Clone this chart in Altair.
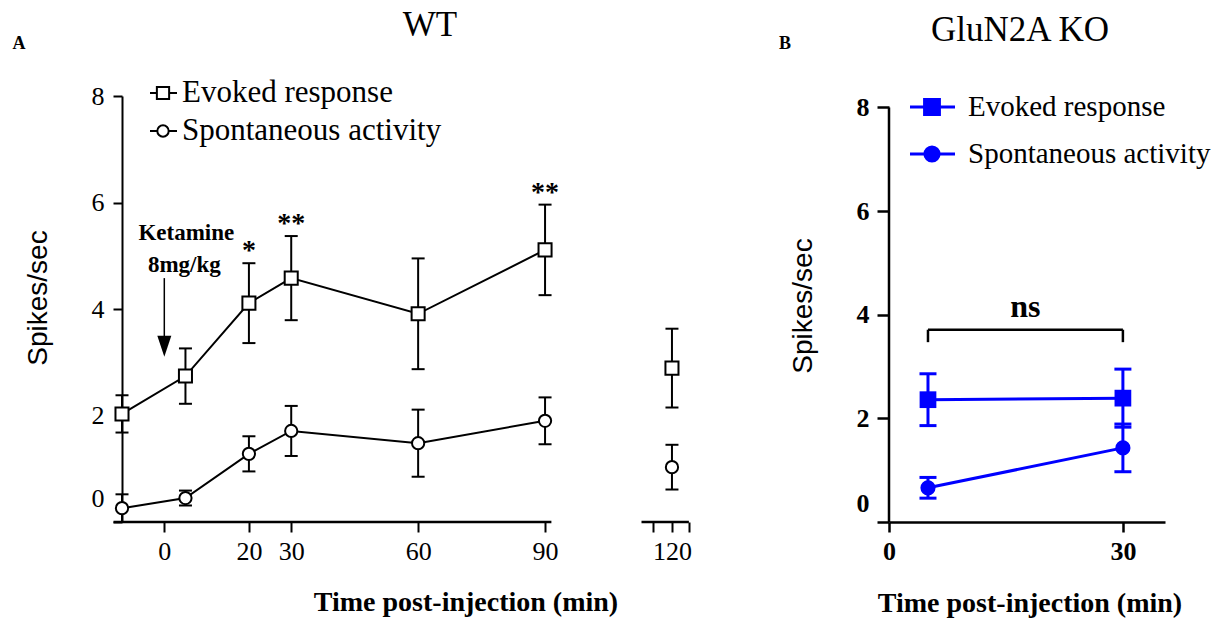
import altair as alt
import pandas as pd

SERIF = "Liberation Serif"
SANS = "Liberation Sans"
SERIES = ["Evoked response", "Spontaneous activity"]

# ---------------- Panel A : WT ----------------
a_time = [-10, 5, 20, 30, 60, 90, 120]
a_evoked = [2.03, 2.74, 4.11, 4.58, 3.91, 5.11, 2.89]
a_evoked_sem = [0.35, 0.52, 0.75, 0.79, 1.04, 0.85, 0.74]
a_spont = [0.26, 0.45, 1.28, 1.71, 1.48, 1.90, 1.03]
a_spont_sem = [0.26, 0.14, 0.33, 0.47, 0.63, 0.44, 0.42]
a_star_time = [20, 30, 90]
a_star_label = ["*", "**", "**"]
a_x_ticks = [0, 20, 30, 60, 90, 115.5, 120, 124]
a_axis_start = [-12, 112.8]
a_axis_end = [91.5, 124]
y_ticks = [0, 2, 4, 6, 8]

# ---------------- Panel B : GluN2A KO ----------------
b_time = [5, 30]
b_evoked = [2.36, 2.39]
b_evoked_sem = [0.50, 0.56]
b_spont = [0.66, 1.43]
b_spont_sem = [0.20, 0.46]
b_x_ticks = [0, 30]
b_bracket_start = [5]
b_bracket_end = [30]


def long_df(times, ev, ev_sem, sp, sp_sem):
    rows = []
    for name, means, sems in ((SERIES[0], ev, ev_sem), (SERIES[1], sp, sp_sem)):
        for t, m, s in zip(times, means, sems):
            rows.append({"time": t, "series": name, "mean": m,
                         "lo": max(m - s, 0.0), "hi": m + s})
    return pd.DataFrame(rows)


df_a = long_df(a_time, a_evoked, a_evoked_sem, a_spont, a_spont_sem)
df_b = long_df(b_time, b_evoked, b_evoked_sem, b_spont, b_spont_sem)

H = 426
W_A = 569
W_B = 276


def label(txt, x, y, size, weight="normal", font=SERIF, angle=0, align="center"):
    return alt.Chart(pd.DataFrame({"t": [txt]})).mark_text(
        font=font, fontSize=size, fontWeight=weight, angle=angle,
        align=align, baseline="middle", color="black"
    ).encode(x=alt.value(x), y=alt.value(y), text="t:N")


def legend_items(ys, x0, x1, xm, xt, shapes, sizes, filled, color, fsize, sw):
    layers = []
    for name, yy, shp, sz in zip(SERIES, ys, shapes, sizes):
        d = pd.DataFrame({"t": [name]})
        layers.append(alt.Chart(d).mark_rule(color=color, strokeWidth=sw).encode(
            x=alt.value(x0), x2=alt.value(x1), y=alt.value(yy)))
        layers.append(alt.Chart(d).mark_point(
            shape=shp, size=sz, filled=True, opacity=1,
            fill=color if filled else "white", stroke=color, strokeWidth=sw
        ).encode(x=alt.value(xm), y=alt.value(yy)))
        layers.append(alt.Chart(d).mark_text(
            font=SERIF, fontSize=fsize, align="left", baseline="middle", color="black"
        ).encode(x=alt.value(xt), y=alt.value(yy), text="t:N"))
    return layers


# ================= Panel A =================
xA = alt.Scale(domain=[-10, 124.5], nice=False, zero=False)
yA = alt.Scale(domain=[0, 8], nice=False, zero=False)

axis_xA = alt.Axis(
    values=a_x_ticks,
    labelExpr="(datum.value > 110 && datum.value != 120) ? '' : datum.label",
    title=None, domain=False, grid=False, tickSize=10, tickWidth=2,
    tickColor="black", labelFont=SERIF, labelFontSize=26, labelColor="black",
    labelPadding=6, labelFlush=False, labelOverlap=False)
axis_yA = alt.Axis(
    values=y_ticks, title=None, grid=False, domain=True, domainColor="black",
    domainWidth=2, tickSize=9, tickWidth=2, tickColor="black",
    tickOpacity={"condition": {"test": "datum.value == 2", "value": 0}, "value": 1},
    labelOffset={"condition": {"test": "datum.value == 0", "value": -24}, "value": 0},
    labelFont=SERIF, labelFontSize=26, labelColor="black", labelPadding=9)


def XA(f):
    return alt.X(f, scale=xA, axis=axis_xA)


def YA(f):
    return alt.Y(f, scale=yA, axis=axis_yA)


baseA = alt.Chart(df_a)
errA = baseA.mark_rule(color="black", strokeWidth=2).encode(
    x=XA("time:Q"), y=YA("lo:Q"), y2="hi:Q")
capA_hi = baseA.mark_tick(color="black", orient="horizontal", size=13, thickness=2, opacity=1).encode(
    x=XA("time:Q"), y=YA("hi:Q"))
capA_lo = baseA.mark_tick(color="black", orient="horizontal", size=13, thickness=2, opacity=1).encode(
    x=XA("time:Q"), y=YA("lo:Q"))
lineA = baseA.transform_filter("datum.time <= 90").mark_line(color="black", strokeWidth=2).encode(
    x=XA("time:Q"), y=YA("mean:Q"), detail="series:N")
ptA_ev = baseA.transform_filter(alt.datum.series == SERIES[0]).mark_point(
    shape="square", size=170, filled=True, fill="white", stroke="black", strokeWidth=2, opacity=1
).encode(x=XA("time:Q"), y=YA("mean:Q"))
ptA_sp = baseA.transform_filter(alt.datum.series == SERIES[1]).mark_point(
    shape="circle", size=150, filled=True, fill="white", stroke="black", strokeWidth=2, opacity=1
).encode(x=XA("time:Q"), y=YA("mean:Q"))

axis_seg = alt.Chart(pd.DataFrame({"s": a_axis_start, "e": a_axis_end, "z": [0, 0]})).mark_rule(
    color="black", strokeWidth=2.5).encode(x=XA("s:Q"), x2="e:Q", y=YA("z:Q"))

hi_lookup = pd.DataFrame({"time": a_time, "hi": [m + s for m, s in zip(a_evoked, a_evoked_sem)]})
stars = alt.Chart(pd.DataFrame({"time": a_star_time, "lab": a_star_label})).transform_lookup(
    lookup="time", from_=alt.LookupData(hi_lookup, "time", ["hi"])
).mark_text(font=SERIF, fontSize=28, fontWeight="bold", baseline="alphabetic", dy=-4,
            color="black").encode(x=XA("time:Q"), y=YA("hi:Q"), text="lab:N")

# ketamine injection annotation at time 0
inj = pd.DataFrame({"time": [0], "top": [4.58], "bottom": [3.30],
                    "l1": ["Ketamine"], "l2": ["8mg/kg"], "ty1": [5.43], "ty2": [4.83]})
arrow_line = alt.Chart(inj).mark_rule(color="black", strokeWidth=1.5).encode(
    x=XA("time:Q"), y=YA("top:Q"), y2="bottom:Q")
arrow_head = alt.Chart(inj).mark_point(
    shape="M-1,-1.5L1,-1.5L0,1.5Z", size=196, filled=True, color="black", opacity=1).encode(
    x=XA("time:Q"), y=YA("bottom:Q"))
ket1 = alt.Chart(inj).mark_text(font=SERIF, fontSize=23, fontWeight="bold", dx=22, color="black").encode(
    x=XA("time:Q"), y=YA("ty1:Q"), text="l1:N")
ket2 = alt.Chart(inj).mark_text(font=SERIF, fontSize=23, fontWeight="bold", dx=20, color="black").encode(
    x=XA("time:Q"), y=YA("ty2:Q"), text="l2:N")

panelA = alt.layer(
    errA, capA_hi, capA_lo, axis_seg, lineA, ptA_ev, ptA_sp, stars,
    arrow_line, arrow_head, ket1, ket2,
    label("WT", 308, -71, 35),
    label("A", -103, -52, 18, "bold"),
    label("Spikes/sec", -83, 202, 28, font=SANS, angle=270),
    label("Time post-injection (min)", 344, 507, 28, "bold"),
    *legend_items([-3, 35], 28, 55, 41, 60, ["square", "circle"], [150, 130], False, "black", 31, 2),
).properties(width=W_A, height=H)

# ================= Panel B =================
BLUE = "#0000ff"
xB = alt.Scale(domain=[0, 35.4], nice=False, zero=False)
yB = alt.Scale(domain=[0, 8.22], nice=False, zero=False)

axis_xB = alt.Axis(
    values=b_x_ticks, title=None, grid=False, domain=True, domainColor="black",
    domainWidth=2.5, tickSize=10, tickWidth=2.5, tickColor="black",
    labelFont=SERIF, labelFontSize=26, labelFontWeight="bold", labelColor="black",
    labelPadding=6, labelFlush=False)
axis_yB = alt.Axis(
    values=y_ticks, title=None, grid=False, domain=False, tickSize=12, tickWidth=2.5,
    tickColor="black",
    labelOffset={"condition": {"test": "datum.value == 0", "value": -19}, "value": 0},
    labelFont=SERIF, labelFontSize=26, labelFontWeight="bold", labelColor="black",
    labelPadding=8)


def XB(f):
    return alt.X(f, scale=xB, axis=axis_xB)


def YB(f):
    return alt.Y(f, scale=yB, axis=axis_yB)


baseB = alt.Chart(df_b)
errB = baseB.mark_rule(color=BLUE, strokeWidth=3).encode(
    x=XB("time:Q"), y=YB("lo:Q"), y2="hi:Q")
capB_hi = baseB.mark_tick(color=BLUE, orient="horizontal", size=17, thickness=3, opacity=1).encode(
    x=XB("time:Q"), y=YB("hi:Q"))
capB_lo = baseB.mark_tick(color=BLUE, orient="horizontal", size=17, thickness=3, opacity=1).encode(
    x=XB("time:Q"), y=YB("lo:Q"))
lineB = baseB.mark_line(color=BLUE, strokeWidth=3).encode(
    x=XB("time:Q"), y=YB("mean:Q"), detail="series:N")
ptB_ev = baseB.transform_filter(alt.datum.series == SERIES[0]).mark_point(
    shape="square", size=280, filled=True, color=BLUE, opacity=1
).encode(x=XB("time:Q"), y=YB("mean:Q"))
ptB_sp = baseB.transform_filter(alt.datum.series == SERIES[1]).mark_point(
    shape="circle", size=230, filled=True, color=BLUE, opacity=1
).encode(x=XB("time:Q"), y=YB("mean:Q"))

yaxis_line_B = alt.Chart(pd.DataFrame({"x": [0], "y0": [0], "y1": [8]})).mark_rule(
    color="black", strokeWidth=2.5).encode(x=XB("x:Q"), y=YB("y0:Q"), y2="y1:Q")

bracket = pd.DataFrame({"s": b_bracket_start, "e": b_bracket_end, "top": [3.71],
                        "leg": [3.47], "mid": [17.5], "txt": ["ns"], "ty": [4.15]})
br_h = alt.Chart(bracket).mark_rule(color="black", strokeWidth=2.5).encode(
    x=XB("s:Q"), x2="e:Q", y=YB("top:Q"))
br_l = alt.Chart(bracket).mark_rule(color="black", strokeWidth=2.5).encode(
    x=XB("s:Q"), y=YB("top:Q"), y2="leg:Q")
br_r = alt.Chart(bracket).mark_rule(color="black", strokeWidth=2.5).encode(
    x=XB("e:Q"), y=YB("top:Q"), y2="leg:Q")
ns_txt = alt.Chart(bracket).mark_text(font=SERIF, fontSize=32, fontWeight="bold", color="black").encode(
    x=XB("mid:Q"), y=YB("ty:Q"), text="txt:N")

panelB = alt.layer(
    errB, capB_hi, capB_lo, lineB, ptB_ev, ptB_sp, yaxis_line_B, br_h, br_l, br_r, ns_txt,
    label("GluN2A KO", 131, -66, 35),
    label("B", -104, -52, 18, "bold"),
    label("Spikes/sec", -85, 210, 28, font=SANS, angle=270),
    label("Time post-injection (min)", 141, 508, 28, "bold"),
    *legend_items([11, 58], 21, 66, 43, 79, ["square", "circle"], [220, 200], True, BLUE, 29, 3),
).properties(width=W_B, height=H)

chart = alt.hconcat(panelA, panelB, spacing=198, bounds="flush").configure_view(
    stroke=None).properties(padding={"left": 4, "top": 0, "right": 0, "bottom": 0},
                            background="white")

chart.save("out.html", embed_options={"renderer": "svg", "actions": False})
